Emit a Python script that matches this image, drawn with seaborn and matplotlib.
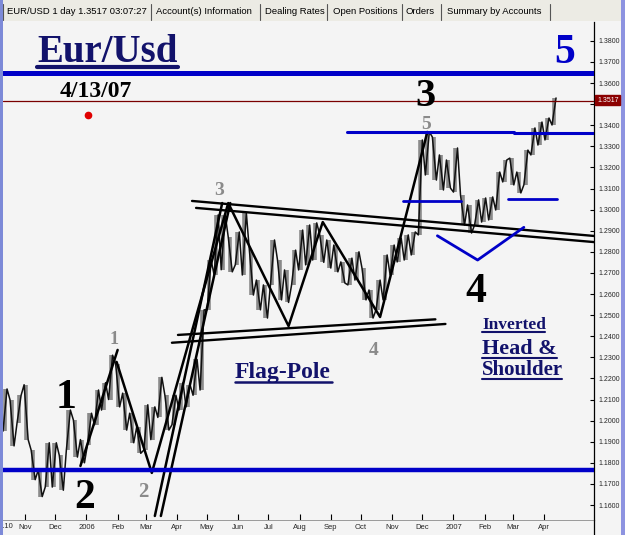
import numpy as np
import pandas as pd
import matplotlib
matplotlib.use("Agg")
import matplotlib.pyplot as plt
from matplotlib.lines import Line2D
from matplotlib.patches import Rectangle
import matplotlib.ticker as mticker
import seaborn as sns

sns.set_theme(style="white")
plt.rcParams['font.family'] = ['Liberation Sans', 'DejaVu Sans']

# ---------------- data ----------------
week_ending = pd.date_range("2005-10-14", periods=79, freq="W-FRI")
weekly_high = [1.2150, 1.2098, 1.2120, 1.2170, 1.1860, 1.1765, 1.1895, 1.1895, 1.1835, 1.2050,
               1.2003, 1.1910, 1.2035, 1.2145, 1.2180, 1.2310, 1.2270, 1.2130, 1.2035, 1.1970,
               1.2075, 1.2065, 1.2205, 1.2120, 1.2120, 1.2180, 1.2170, 1.2290, 1.2525, 1.2760,
               1.2975, 1.2975, 1.2870, 1.2894, 1.2984, 1.2808, 1.2666, 1.2643, 1.2856, 1.2761,
               1.2714, 1.2808, 1.2903, 1.2927, 1.2937, 1.2880, 1.2856, 1.2832, 1.2752, 1.2770,
               1.2800, 1.2723, 1.2619, 1.2666, 1.2785, 1.2832, 1.2865, 1.2880, 1.2894, 1.3330,
               1.3368, 1.3344, 1.3259, 1.3235, 1.3292, 1.3069, 1.3022, 1.3046, 1.3055, 1.3060,
               1.3178, 1.3235, 1.3244, 1.3178, 1.3282, 1.3387, 1.3415, 1.3434, 1.3529]
weekly_low = [1.1950, 1.1880, 1.1990, 1.1910, 1.1720, 1.1640, 1.1685, 1.1685, 1.1670, 1.1860,
              1.1827, 1.1800, 1.1885, 1.1980, 1.2050, 1.2100, 1.2065, 1.1955, 1.1895, 1.1845,
              1.1860, 1.1910, 1.2015, 1.1955, 1.1980, 1.2050, 1.2065, 1.2120, 1.2145, 1.2525,
              1.2690, 1.2715, 1.2705, 1.2738, 1.2690, 1.2595, 1.2525, 1.2486, 1.2643, 1.2572,
              1.2560, 1.2643, 1.2714, 1.2738, 1.2761, 1.2750, 1.2723, 1.2705, 1.2652, 1.2643,
              1.2666, 1.2572, 1.2486, 1.2525, 1.2572, 1.2690, 1.2752, 1.2761, 1.2785, 1.2880,
              1.3164, 1.3140, 1.3093, 1.3102, 1.3083, 1.2927, 1.2889, 1.2927, 1.2941, 1.2951,
              1.2998, 1.3131, 1.3117, 1.3079, 1.3117, 1.3259, 1.3306, 1.3330, 1.3401]

last_price = 1.3517
top_blue_level = 1.3646
bottom_blue_level = 1.1768
dot_date, dot_price = "2006-01-03", 1.3448

wave_a_dates = ["2005-12-26", "2006-02-01"]
wave_a_prices = [1.1785, 1.2335]
wave_b_dates = ["2006-01-31", "2006-03-07", "2006-05-22", "2006-07-21",
                "2006-08-24", "2006-10-20", "2006-12-06"]
wave_b_prices = [1.2278, 1.1752, 1.3031, 1.2448, 1.2941, 1.2491, 1.3368]
pole1_dates, pole1_prices = ["2006-03-10", "2006-05-16"], [1.1548, 1.3031]
pole2_dates, pole2_prices = ["2006-03-16", "2006-05-24"], [1.1548, 1.3031]
flag_top1_dates, flag_top1_prices = ["2006-04-16", "2007-05-21"], [1.3041, 1.2875]
flag_top2_dates, flag_top2_prices = ["2006-04-20", "2007-05-21"], [1.3008, 1.2846]
flag_bot1_dates, flag_bot1_prices = ["2006-04-02", "2006-12-14"], [1.2406, 1.2480]
flag_bot2_dates, flag_bot2_prices = ["2006-03-27", "2006-12-24"], [1.2369, 1.2458]
wave5_seg1_dates, wave5_seg1_prices = ["2006-09-17", "2007-03-02"], [1.3370, 1.3370]
wave5_seg2_dates, wave5_seg2_prices = ["2007-03-02", "2007-05-21"], [1.3361, 1.3361]
lshoulder_dates, lshoulder_prices = ["2006-11-12", "2007-01-08"], [1.3042, 1.3042]
rshoulder_dates, rshoulder_prices = ["2007-02-24", "2007-04-14"], [1.3049, 1.3049]
head_dates, head_prices = ["2006-12-16", "2007-01-25", "2007-03-12"], [1.2876, 1.2761, 1.2916]

month_tick_dates = ["2005-11-01", "2005-12-01", "2006-01-01", "2006-02-01", "2006-03-01",
                    "2006-04-01", "2006-05-01", "2006-06-01", "2006-07-01", "2006-08-01",
                    "2006-09-01", "2006-10-01", "2006-11-01", "2006-12-01", "2007-01-01",
                    "2007-02-01", "2007-03-01", "2007-04-01"]
month_tick_labels = ["Nov", "Dec", "2006", "Feb", "Mar", "Apr", "May", "Jun", "Jul", "Aug",
                     "Sep", "Oct", "Nov", "Dec", "2007", "Feb", "Mar", "Apr"]
price_ticks = [round(1.16 + 0.01 * i, 2) for i in range(23)]

tab_labels = ["EUR/USD 1 day 1.3517 03:07:27", "Account(s) Information", "Dealing Rates",
              "Open Positions", "Orders", "Summary by Accounts"]

# ---------------- figure ----------------
W, H = 625, 535
BG = "#f4f4f4"
fig = plt.figure(figsize=(W / 100, H / 100), dpi=100, facecolor=BG)

def fx(x):
    return x / W

def fy(y):
    return 1 - y / H

ax = fig.add_axes([fx(3), fy(520), (594 - 3) / W, (520 - 22) / H])
ax.set_facecolor(BG)

# weekly range bars (grey) + a thin trace through each week's extremes
hi = np.array(weekly_high)
lo = np.array(weekly_low)
mid = (hi + lo) / 2
rising = np.diff(np.r_[mid[0], mid]) >= 0
bar_dates = week_ending - pd.Timedelta(days=2)
bars = pd.DataFrame({
    "date": np.repeat(bar_dates.values, 2),
    "price": np.ravel(np.column_stack([lo, hi])),
    "week": np.repeat(np.arange(len(hi)), 2),
})
sns.lineplot(data=bars, x="date", y="price", units="week", estimator=None,
             color="#8a8a8a", linewidth=2.6, ax=ax, legend=False, zorder=2,
             solid_capstyle="butt")

first = np.where(rising, lo, hi)
second = np.where(rising, hi, lo)
trace = pd.DataFrame({
    "date": np.ravel(np.column_stack([(week_ending - pd.Timedelta(days=4)).values,
                                      week_ending.values])),
    "price": np.ravel(np.column_stack([first, second])),
})
sns.lineplot(data=trace, x="date", y="price", estimator=None, sort=False,
             color="#111111", linewidth=1.1, ax=ax, legend=False, zorder=3)

def seg(dates, prices, color="black", lw=1.6, z=4):
    ax.plot(pd.to_datetime(dates), prices, color=color, lw=lw, zorder=z,
            solid_capstyle="round", solid_joinstyle="round")

# horizontal levels
xl = (pd.Timestamp("2005-10-10"), pd.Timestamp("2007-05-20 18:00"))
ax.axhline(top_blue_level, color="#0000c8", lw=3.6, zorder=5)
ax.axhline(bottom_blue_level, color="#0000c8", lw=3.2, zorder=5)
ax.axhline(last_price, color="#7a0000", lw=0.9, zorder=5)

# wave / channel lines
seg(wave_a_dates, wave_a_prices, lw=1.8)
seg(wave_b_dates, wave_b_prices, lw=1.8)
seg(pole1_dates, pole1_prices, lw=1.8)
seg(pole2_dates, pole2_prices, lw=1.8)
seg(flag_top1_dates, flag_top1_prices, lw=1.7)
seg(flag_top2_dates, flag_top2_prices, lw=1.7)
seg(flag_bot1_dates, flag_bot1_prices, lw=1.7)
seg(flag_bot2_dates, flag_bot2_prices, lw=1.7)
seg(wave5_seg1_dates, wave5_seg1_prices, color="#0000c8", lw=2.2)
seg(wave5_seg2_dates, wave5_seg2_prices, color="#0000c8", lw=2.2)
seg(lshoulder_dates, lshoulder_prices, color="#0000c8", lw=2.0)
seg(rshoulder_dates, rshoulder_prices, color="#0000c8", lw=2.0)
seg(head_dates, head_prices, color="#0000c8", lw=2.0)
ax.plot(pd.to_datetime([dot_date]), [dot_price], "o", color="#e00000", ms=4.5, zorder=6)

ax.set_xlim(*xl)
ax.set_ylim(1.152891, 1.388910)
ax.set_xlabel("")
ax.set_ylabel("")

# axes styling
for s in ["left", "top"]:
    ax.spines[s].set_visible(False)
ax.spines["right"].set_color("black")
ax.spines["right"].set_linewidth(0.9)
ax.spines["bottom"].set_color("#9a9a9a")
ax.spines["bottom"].set_linewidth(0.7)

ax.set_xticks(pd.to_datetime(month_tick_dates))
ax.set_xticklabels(month_tick_labels)
ax.tick_params(axis="x", direction="in", length=4, width=0.8, color="black",
               labelsize=5.5, pad=3, bottom=True)

ax.yaxis.tick_right()
ax.set_yticks(price_ticks)
# the 1.3500 label sits under the last-price box in the reference
ax.yaxis.set_major_formatter(mticker.FuncFormatter(
    lambda v, _: "" if abs(v - 1.35) < 1e-6 else f"{v:.4f}"))
ax.set_yticks([1.20, 1.25, 1.30, 1.35], minor=True)
ax.tick_params(axis="y", which="major", direction="in", length=3, width=0.8,
               color="black", labelsize=5, pad=3, right=True, left=False)
ax.tick_params(axis="y", which="minor", direction="in", length=7, width=0.8,
               color="black", right=True, left=False)
ax.grid(False)

# extension of the price axis to the bottom
fig.add_artist(Line2D([fx(594), fx(594)], [fy(520), fy(535)], transform=fig.transFigure,
                      color="black", lw=0.9))
fig.text(fx(1), fy(527), "t.10", fontsize=5.5, ha="left", va="center")

# last-price box
fig.text(fx(597), fy(100), "1.3517", fontsize=5, color="white", ha="left", va="center",
         zorder=10, bbox=dict(boxstyle="square,pad=0.25", facecolor="#8b0000",
                              edgecolor="#8b0000"))

# tab bar
fig.add_artist(Rectangle((0, fy(21)), 1, 21 / H, transform=fig.transFigure,
                         facecolor="#ecebe4", edgecolor="none", zorder=5))
tab_x = [7, 156, 265, 333, 406, 447]
sep_x = [151, 260, 327, 402, 441, 550]
for x, t in zip(tab_x, tab_labels):
    fig.text(fx(x), fy(12), t, fontsize=6.8, ha="left", va="center", color="black", zorder=6)
for x in sep_x:
    fig.add_artist(Line2D([fx(x), fx(x)], [fy(4), fy(20)], transform=fig.transFigure,
                          color="#555555", lw=0.8, zorder=6))
fig.add_artist(Line2D([fx(3), fx(3)], [fy(4), fy(20)], transform=fig.transFigure,
                      color="#555555", lw=0.8, zorder=6))

# window borders
fig.add_artist(Rectangle((0, 0), fx(3), 1, transform=fig.transFigure,
                         facecolor="#7d8ad8", edgecolor="none", zorder=7))
fig.add_artist(Rectangle((fx(621), 0), fx(4), 1, transform=fig.transFigure,
                         facecolor="#8d93e0", edgecolor="none", zorder=7))

# ---------------- annotation text ----------------
SERIF = ["Liberation Serif", "DejaVu Serif"]
NAVY = "#12126b"

def label(x, y, s, size, color="black", ha="center", weight="bold"):
    fig.text(fx(x), fy(y), s, fontsize=size, color=color, ha=ha, va="baseline",
             family=SERIF, weight=weight, zorder=8)

def underline(x0, x1, y, lw, color=NAVY):
    fig.add_artist(Line2D([fx(x0), fx(x1)], [fy(y), fy(y)], transform=fig.transFigure,
                          color=color, lw=lw, zorder=8))

label(37, 62, "Eur/Usd", 28, NAVY, ha="left")
underline(37, 178, 66.5, 3.0)
label(60, 97, "4/13/07", 17, ha="left")
label(565, 63, "5", 30, "#0000c8")
label(425, 106, "3", 29)
label(426, 129, "5", 14, "#8a8a8a")
label(66, 408, "1", 30)
label(85, 508, "2", 30)
label(114, 344, "1", 13, "#8a8a8a")
label(143, 497, "2", 15, "#8a8a8a")
label(219, 195, "3", 14, "#8a8a8a")
label(374, 355, "4", 14, "#8a8a8a")
label(476, 302, "4", 30)
label(235, 378, "Flag-Pole", 17, NAVY, ha="left")
underline(235, 332, 382, 1.8)
label(482, 329, "Inverted", 12.5, NAVY, ha="left")
underline(482, 545, 332, 1.5)
label(482, 354, "Head &", 16, NAVY, ha="left")
underline(482, 557, 357.5, 1.5)
label(482, 375, "Shoulder", 15, NAVY, ha="left")
underline(482, 562, 378.5, 1.5)

fig.savefig("out.png", dpi=100, facecolor=BG)
